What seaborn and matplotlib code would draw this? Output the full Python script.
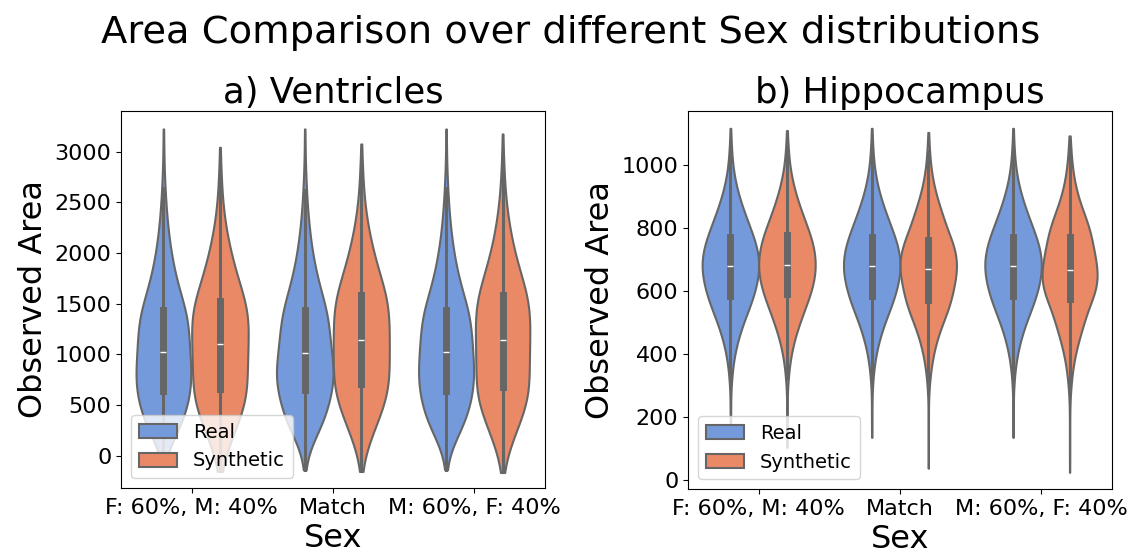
import numpy as np
import pandas as pd
import matplotlib
matplotlib.use("Agg")
import matplotlib.pyplot as plt
import seaborn as sns

# ---- data (quantiles) ----
groups = ["F: 60%, M: 40%", "Match", "M: 60%, F: 40%"]
sources = ["Real", "Synthetic"]
probs = [0, 0.005, 0.02, 0.05, 0.1, 0.175, 0.25, 0.375, 0.5,
         0.625, 0.75, 0.825, 0.9, 0.95, 0.98, 0.995, 1]

vent_real = [
    [-90, 90, 170, 263, 377, 513, 637, 822, 1021, 1230, 1441, 1601, 1841, 2108, 2408, 2750, 3223],
    [-141, 90, 170, 266, 380, 516, 647, 820, 1008, 1222, 1441, 1601, 1841, 2108, 2408, 2750, 3223],
    [-140, 90, 170, 263, 377, 513, 640, 825, 1020, 1228, 1441, 1601, 1841, 2108, 2408, 2750, 3223],
]
vent_synth = [
    [-157, -38, 87, 223, 366, 522, 653, 876, 1099, 1311, 1523, 1680, 1900, 2130, 2390, 2720, 3042],
    [-157, 18, 143, 279, 422, 578, 709, 925, 1145, 1362, 1582, 1738, 1958, 2190, 2450, 2780, 3075],
    [-167, -12, 113, 249, 392, 548, 679, 909, 1139, 1360, 1582, 1740, 1965, 2210, 2480, 2820, 3174],
]
hippo_real = [
    [150, 320, 393, 449, 500, 548, 583, 634, 678, 722, 771, 808, 856, 907, 963, 1036, 1116],
    [134, 320, 393, 449, 500, 548, 583, 634, 678, 722, 771, 808, 856, 907, 963, 1036, 1116],
    [134, 320, 393, 449, 500, 548, 583, 634, 678, 722, 771, 808, 856, 907, 963, 1036, 1116],
]
hippo_synth = [
    [102, 320, 393, 451, 502, 551, 588, 638, 683, 728, 778, 815, 864, 915, 970, 1040, 1109],
    [36, 305, 378, 436, 488, 537, 570, 625, 670, 715, 762, 803, 852, 903, 960, 1030, 1103],
    [23, 290, 366, 426, 479, 530, 574, 620, 666, 713, 771, 806, 853, 906, 965, 1035, 1092],
]

N = 2000
grid = np.linspace(0, 1, N)


def build(real, synth):
    frames = []
    for g, qr, qs in zip(groups, real, synth):
        for src, q in zip(sources, (qr, qs)):
            vals = np.interp(grid, probs, q)
            frames.append(pd.DataFrame({"Sex": g, "Source": src, "Area": vals}))
    return pd.concat(frames, ignore_index=True)


df_vent = build(vent_real, vent_synth)
df_hippo = build(hippo_real, hippo_synth)

palette = ["cornflowerblue", "coral"]

fig = plt.figure(figsize=(11.3, 5.56), dpi=100)
W, H = 1130, 556
ax1 = fig.add_axes([121 / W, (H - 488) / H, (545 - 121) / W, (488 - 111) / H])
ax2 = fig.add_axes([688 / W, (H - 489) / H, (1112 - 688) / W, (489 - 111) / H])

for ax, df, title, ylim, ticks in (
    (ax1, df_vent, "a) Ventricles", (-320, 3400), np.arange(0, 3001, 500)),
    (ax2, df_hippo, "b) Hippocampus", (-30, 1171), np.arange(0, 1001, 200)),
):
    sns.violinplot(data=df, x="Sex", y="Area", hue="Source", hue_order=sources,
                   order=groups, palette=palette, cut=0, bw_adjust=1.4,
                   linewidth=1.5, linecolor="#666666",
                   inner_kws=dict(box_width=5, whis_width=2.2), ax=ax)
    ax.set_ylim(*ylim)
    ax.set_yticks(ticks)
    ax.set_title(title, fontsize=25.5)
    ax.set_xlabel("Sex", fontsize=23)
    ax.set_ylabel("Observed Area", fontsize=23)
    ax.tick_params(labelsize=16)
    sns.move_legend(ax, "lower left", title=None, fontsize=14)

fig.suptitle("Area Comparison over different Sex distributions",
             fontsize=27.7, x=0.505, y=1 - 33 / H, va="center")

fig.savefig("out.png", dpi=100)
